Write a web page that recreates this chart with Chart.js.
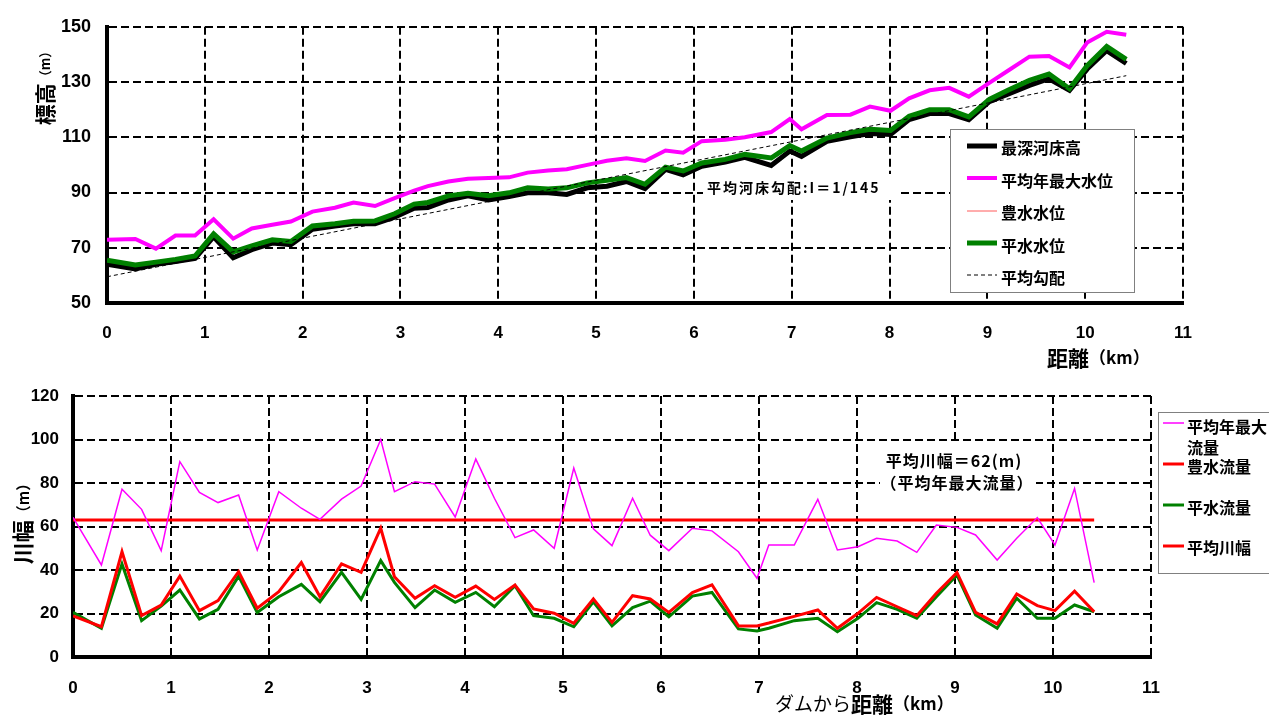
<!DOCTYPE html>
<html>
<head>
<meta charset="utf-8">
<script src="https://cdn.jsdelivr.net/npm/chart.js@4"></script>
<style>
  body { margin: 0; background: #fff; width: 1269px; height: 715px; overflow: hidden; position: relative; }
  #c1 { position: absolute; left: 0; top: 0; }
  #c2 { position: absolute; left: 0; top: 370px; }
</style>
</head>
<body>
<canvas id="c1" width="1269" height="370"></canvas>
<canvas id="c2" width="1269" height="345"></canvas>
<script>
// distance from dam (km) of each cross section
const dist = [0, 0.29, 0.5, 0.7, 0.9, 1.09, 1.29, 1.48, 1.69, 1.88, 2.1, 2.33, 2.52, 2.74, 2.94, 3.14, 3.28, 3.49,
  3.69, 3.9, 4.11, 4.3, 4.51, 4.7, 4.91, 5.11, 5.31, 5.5, 5.71, 5.89, 6.08, 6.32, 6.52, 6.79, 6.98, 7.1, 7.36,
  7.6, 7.8, 8.01, 8.2, 8.41, 8.61, 8.81, 9.02, 9.21, 9.43, 9.63, 9.84, 10.02, 10.22, 10.42];

// top chart: elevation (m)
const bedElev = [64, 62.3, 64, 65, 66.1, 74, 66.4, 69.3, 71.7, 71.1, 76.7, 77.9, 78.7, 78.7, 81.1, 84.3, 84.6, 87.3,
  88.8, 87.3, 88.5, 89.9, 89.9, 89.3, 91.7, 92.3, 94, 91.4, 98.4, 96.4, 99.5, 101, 102.7, 99.8, 105, 103.1, 108.5,
  110.2, 111.4, 111, 116.4, 118.6, 118.6, 116.4, 122.9, 125.6, 128.8, 131.2, 127, 134.7, 141.4, 136.7];
const maxStage = [72.9, 73.2, 69.7, 74.4, 74.4, 80.3, 73.3, 77, 78.3, 79.5, 83.1, 84.5, 86.4, 85.1, 88, 90.7, 92.3, 94,
  95, 95.3, 95.5, 97.2, 98, 98.4, 100, 101.5, 102.4, 101.4, 105.2, 104.4, 108.6, 109.1, 110, 111.9, 116.6, 112.9, 118.1,
  118.2, 121.1, 119.6, 124.1, 127, 127.9, 124.7, 129.7, 134.1, 139.2, 139.4, 135.3, 144.3, 148.2, 147.1];
const highStage = [65.5, 63.8, 64.8, 65.8, 67, 75, 68.5, 70.7, 72.9, 72.3, 77.9, 78.7, 79.6, 79.7, 82.3, 85.8, 86.4, 88.8,
  89.7, 88.8, 89.9, 91.7, 91.3, 91.7, 93.5, 94.4, 95.4, 93, 99.2, 97.8, 100.7, 102, 103.8, 102.5, 107, 105, 109.7,
  111.7, 112.9, 112.5, 117.6, 120, 120, 117.4, 123.7, 127, 130.6, 132.9, 127.6, 135.9, 142.9, 138.2];
const normStage = [65.5, 63.8, 64.8, 65.8, 67, 75, 68.5, 70.7, 72.9, 72.3, 77.9, 78.7, 79.6, 79.7, 82.3, 85.8, 86.4, 88.8,
  89.7, 88.8, 89.9, 91.7, 91.3, 91.7, 93.5, 94.4, 95.4, 93, 99.2, 97.8, 100.7, 102, 103.8, 102.5, 107, 105, 109.7,
  111.7, 112.9, 112.5, 117.6, 120, 120, 117.4, 123.7, 127, 130.6, 132.9, 127.6, 135.9, 142.9, 138.2];
const gradX = [0, 10.42];
const gradY = [59.5, 132.3];

// bottom chart: river width (m)
const widthMax = [64.2, 42.3, 77.1, 67.9, 48.9, 89.8, 75.7, 71, 74.5, 49.2, 76, 68.4, 63.3, 72.6, 78.6, 100, 76, 80.6,
  79.5, 64.4, 91, 73, 54.9, 58.4, 50, 86.9, 58.9, 51.2, 73, 56, 48.9, 59.2, 58, 48.4, 36.2, 51.5, 51.5,
  72.5, 49.2, 50.7, 54.6, 53.3, 48.1, 60.7, 59.6, 56.1, 44.6, 54.6, 64.1, 51.5, 77.5, 34.2];
const widthHigh = [18.9, 13.9, 48.4, 19, 23.9, 37.2, 21.3, 25.9, 39.2, 22.4, 30, 43.4, 27.7, 42.8, 38.9, 59.2, 36.9, 27,
  32.8, 27.4, 32.6, 26.5, 33.1, 22.1, 20.1, 15.5, 26.7, 15.9, 28.2, 26.7, 20.5, 29.6, 33.2, 14.3, 14.3, 15.6, 18.7,
  21.6, 13.2, 20.1, 27.4, 23.1, 19, 29.3, 38.8, 20.5, 15.2, 29, 23.6, 21.3, 30.3, 20.8];
const widthNorm = [20.5, 13.2, 42.8, 16.7, 23.4, 30.8, 17.5, 21.9, 37.2, 20.5, 27.7, 33.4, 25.4, 38.9, 26.5, 44.3, 34.3, 22.7,
  30.8, 25.1, 29.7, 23.1, 32.8, 19, 17.8, 13.9, 25.4, 14.3, 22.7, 25.7, 18.5, 28, 29.7, 12.9, 12, 13.2, 16.7,
  17.8, 11.6, 17.8, 25, 21.9, 17.8, 27.7, 37.7, 19.3, 13.2, 27, 17.8, 17.8, 23.9, 20.8];
const avgWidthX = [0, 10.42];
const avgWidth = [63, 63];

const NUM = '"Liberation Sans", Arial, sans-serif';
const JP = '"Noto Sans CJK JP", sans-serif';

function pts(xs, ys) {
  return xs.map((x, i) => ({ x: x, y: ys[i] }));
}

function drawParts(ctx, parts, x, y, align, rotate) {
  ctx.save();
  ctx.translate(x, y);
  if (rotate) ctx.rotate(-Math.PI / 2);
  ctx.textBaseline = 'middle';
  ctx.textAlign = 'left';
  ctx.fillStyle = '#000';
  let total = 0;
  parts.forEach(p => { ctx.font = p.f; p.w = ctx.measureText(p.t).width; total += p.w; });
  let cx = align === 'center' ? -total / 2 : align === 'right' ? -total : 0;
  parts.forEach(p => { ctx.font = p.f; ctx.fillText(p.t, cx, 0); cx += p.w; });
  ctx.restore();
}

function drawLegend(ctx, chart, box, rows, x1, x2, tx) {
  ctx.save();
  ctx.fillStyle = '#fff';
  ctx.fillRect(box[0], box[1], box[2], box[3]);
  ctx.strokeStyle = '#808080';
  ctx.lineWidth = 1;
  ctx.strokeRect(box[0] + 0.5, box[1] + 0.5, box[2], box[3]);
  rows.forEach(r => {
    const ds = chart.data.datasets[r.i];
    ctx.strokeStyle = ds.borderColor;
    ctx.lineWidth = ds.borderWidth;
    ctx.setLineDash(ds.borderDash || []);
    ctx.beginPath();
    ctx.moveTo(x1, r.ly);
    ctx.lineTo(x2, r.ly);
    ctx.stroke();
    ctx.setLineDash([]);
    ctx.fillStyle = '#000';
    ctx.font = 'bold 16px ' + JP;
    ctx.textBaseline = 'middle';
    ctx.textAlign = 'left';
    r.text.forEach((t, k) => ctx.fillText(t, tx, r.ty + k * 21));
  });
  ctx.restore();
}

function scales(yMin, yMax, yFont, yPad, yWidth, xPad, xHeight, xFont) {
  return {
    x: {
      type: 'linear', min: 0, max: 11,
      ticks: { stepSize: 1, color: '#000', font: { family: NUM, size: xFont, weight: 'bold' }, padding: xPad, maxRotation: 0 },
      grid: { color: '#000', lineWidth: 2, drawTicks: false },
      border: { display: true, color: '#000', width: 4, dash: [8, 4] },
      afterFit: s => { s.height = xHeight; }
    },
    y: {
      type: 'linear', min: yMin, max: yMax,
      ticks: { stepSize: 20, color: '#000', font: { family: NUM, size: yFont, weight: 'bold' }, padding: yPad },
      grid: { color: '#000', lineWidth: 2, drawTicks: false },
      border: { display: true, color: '#000', width: 4, dash: [8, 4] },
      afterFit: s => { s.width = yWidth; }
    }
  };
}

const topDeco = {
  id: 'topDeco',
  beforeDatasetsDraw(chart) {
    const ctx = chart.ctx;
    ctx.save();
    ctx.fillStyle = '#fff';
    ctx.fillRect(703, 174, 196, 26);
    ctx.fillStyle = '#000';
    ctx.font = 'bold 14px ' + JP;
    ctx.letterSpacing = '2px';
    ctx.textBaseline = 'middle';
    ctx.textAlign = 'left';
    ctx.fillText('平均河床勾配:I＝1/145', 707, 188);
    ctx.restore();
  },
  afterDraw(chart) {
    const ctx = chart.ctx;
    drawLegend(ctx, chart, [950, 129, 184, 163], [
      { i: 0, ly: 146, ty: 148, text: ['最深河床高'] },
      { i: 1, ly: 178, ty: 181, text: ['平均年最大水位'] },
      { i: 2, ly: 211, ty: 213, text: ['豊水水位'] },
      { i: 3, ly: 243, ty: 246, text: ['平水水位'] },
      { i: 4, ly: 275, ty: 278, text: ['平均勾配'] }
    ], 967, 997, 1001);
    drawParts(ctx, [{ t: '標高', f: 'bold 21px ' + JP }, { t: '（m）', f: 'bold 13px ' + JP }], 45, 85, 'center', true);
    drawParts(ctx, [{ t: '距離', f: 'bold 21px ' + JP }, { t: '（km）', f: 'bold 17px ' + JP }], 1047, 358, 'left', false);
  }
};

const botDeco = {
  id: 'botDeco',
  beforeDatasetsDraw(chart) {
    const ctx = chart.ctx;
    ctx.save();
    ctx.fillStyle = '#fff';
    ctx.fillRect(880, 442 - 370, 156, 70);
    ctx.fillStyle = '#000';
    ctx.font = 'bold 16px ' + JP;
    ctx.letterSpacing = '1px';
    ctx.textBaseline = 'middle';
    ctx.textAlign = 'center';
    ctx.fillText('平均川幅＝62(m)', 954, 461 - 370);
    ctx.fillText('（平均年最大流量）', 957, 483 - 370);
    ctx.restore();
  },
  afterDraw(chart) {
    const ctx = chart.ctx;
    drawLegend(ctx, chart, [1158, 412 - 370, 140, 161], [
      { i: 0, ly: 423 - 370, ty: 427 - 370, text: ['平均年最大', '流量'] },
      { i: 1, ly: 464 - 370, ty: 467 - 370, text: ['豊水流量'] },
      { i: 2, ly: 505 - 370, ty: 508 - 370, text: ['平水流量'] },
      { i: 3, ly: 546 - 370, ty: 548 - 370, text: ['平均川幅'] }
    ], 1163, 1184, 1187);
    drawParts(ctx, [{ t: '川幅', f: 'bold 22px ' + JP }, { t: '（m）', f: 'bold 15px ' + JP }], 23, 520 - 370, 'center', true);
    drawParts(ctx, [{ t: 'ダムから', f: '19px ' + JP }, { t: '距離', f: 'bold 21px ' + JP }, { t: '（km）', f: 'bold 17px ' + JP }], 775, 704 - 370, 'left', false);
  }
};

const common = {
  responsive: false,
  animation: false,
  plugins: { legend: { display: false }, tooltip: { enabled: false } },
  elements: { point: { radius: 0 }, line: { tension: 0, fill: false } }
};

new Chart(document.getElementById('c1'), {
  type: 'line',
  data: {
    datasets: [
      { label: '最深河床高', data: pts(dist, bedElev), borderColor: '#000000', borderWidth: 5, order: 5 },
      { label: '平均年最大水位', data: pts(dist, maxStage), borderColor: '#FF00FF', borderWidth: 4, order: 2 },
      { label: '豊水水位', data: pts(dist, highStage), borderColor: '#FF5A5A', borderWidth: 1, order: 4 },
      { label: '平水水位', data: pts(dist, normStage), borderColor: '#008000', borderWidth: 5, order: 3 },
      { label: '平均勾配', data: pts(gradX, gradY), borderColor: '#000000', borderWidth: 1, borderDash: [4, 3], order: 1 }
    ]
  },
  options: Object.assign({}, common, {
    layout: { padding: { left: 0, top: 20, right: 86, bottom: 0 } },
    scales: scales(50, 150, 18, 16, 107, 20, 67, 17)
  }),
  plugins: [topDeco]
});

new Chart(document.getElementById('c2'), {
  type: 'line',
  data: {
    datasets: [
      { label: '平均年最大流量', data: pts(dist, widthMax), borderColor: '#FF00FF', borderWidth: 1.5, order: 1 },
      { label: '豊水流量', data: pts(dist, widthHigh), borderColor: '#FF0000', borderWidth: 3, order: 2 },
      { label: '平水流量', data: pts(dist, widthNorm), borderColor: '#008000', borderWidth: 3, order: 3 },
      { label: '平均川幅', data: pts(avgWidthX, avgWidth), borderColor: '#FF0000', borderWidth: 3, order: 4 }
    ]
  },
  options: Object.assign({}, common, {
    layout: { padding: { left: 0, top: 26, right: 118, bottom: 0 } },
    scales: scales(0, 120, 17, 14, 73, 21, 58, 17)
  }),
  plugins: [botDeco]
});
</script>
</body>
</html>
